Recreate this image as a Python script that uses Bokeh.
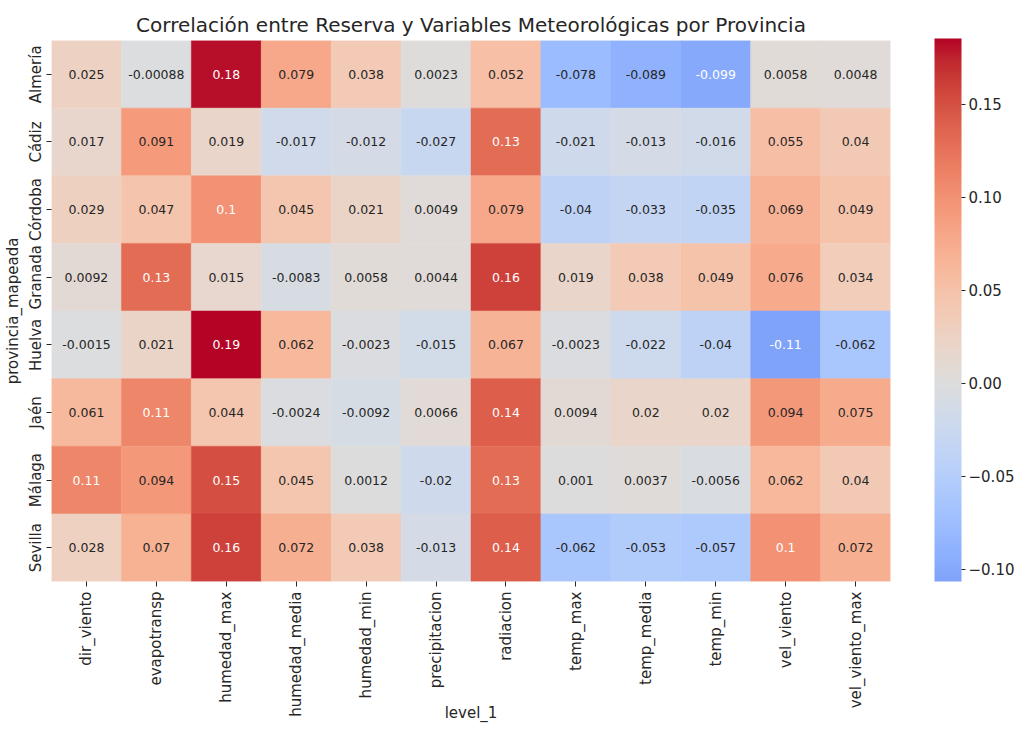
import math
import numpy as np
from bokeh.plotting import figure
from bokeh.layouts import column
from bokeh.models import (ColumnDataSource, LinearColorMapper, ColorBar, FixedTicker,
                          CustomJSTickFormatter, Spacer)
from bokeh.transform import transform
from bokeh.core.properties import value
from bokeh.embed import file_html
from bokeh.resources import INLINE

# ---------------- data ----------------
provincias = ["Almería", "Cádiz", "Córdoba", "Granada", "Huelva", "Jaén", "Málaga", "Sevilla"]
variables = ["dir_viento", "evapotransp", "humedad_max", "humedad_media", "humedad_min",
             "precipitacion", "radiacion", "temp_max", "temp_media", "temp_min",
             "vel_viento", "vel_viento_max"]

almeria = [0.025, -0.00088, 0.181, 0.079, 0.038, 0.0023, 0.052, -0.078, -0.089, -0.0994, 0.0058, 0.0048]
cadiz   = [0.017, 0.091, 0.019, -0.017, -0.012, -0.027, 0.13, -0.021, -0.013, -0.016, 0.055, 0.04]
cordoba = [0.029, 0.047, 0.1, 0.045, 0.021, 0.0049, 0.079, -0.04, -0.033, -0.035, 0.069, 0.049]
granada = [0.0092, 0.13, 0.015, -0.0083, 0.0058, 0.0044, 0.16, 0.019, 0.038, 0.049, 0.076, 0.034]
huelva  = [-0.0015, 0.021, 0.1853, 0.062, -0.0023, -0.015, 0.067, -0.0023, -0.022, -0.04, -0.1065, -0.062]
jaen    = [0.061, 0.11, 0.044, -0.0024, -0.0092, 0.0066, 0.14, 0.0094, 0.02, 0.02, 0.094, 0.075]
malaga  = [0.11, 0.094, 0.15, 0.045, 0.0012, -0.02, 0.13, 0.001, 0.0037, -0.0056, 0.062, 0.04]
sevilla = [0.028, 0.07, 0.16, 0.072, 0.038, -0.013, 0.14, -0.062, -0.053, -0.057, 0.1, 0.072]

filas = [almeria, cadiz, cordoba, granada, huelva, jaen, malaga, sevilla]

# ---------------- colormap (matplotlib coolwarm, centred at 0) ----------------
_cw = np.array([
    [0.2298057, 0.298717966, 0.753683153], [0.26623388, 0.353094838, 0.801466763],
    [0.30386891, 0.406535296, 0.84495867], [0.342804478, 0.458757618, 0.883725899],
    [0.38301334, 0.50941904, 0.917387822], [0.424369608, 0.558148092, 0.945619588],
    [0.46666708, 0.604562568, 0.968154911], [0.509635204, 0.648280772, 0.98478814],
    [0.552953156, 0.688929332, 0.995375608], [0.596262162, 0.726149107, 0.999836203],
    [0.639176211, 0.759599947, 0.998151185], [0.681291281, 0.788964712, 0.990363227],
    [0.722193294, 0.813952739, 0.976574709], [0.761464949, 0.834302879, 0.956945269],
    [0.798691636, 0.849786142, 0.931688648], [0.833466556, 0.860207984, 0.901068838],
    [0.865395197, 0.86541021, 0.865395561], [0.897787179, 0.848937047, 0.820880546],
    [0.924127593, 0.827384882, 0.774508472], [0.944468518, 0.800927443, 0.726736146],
    [0.958852946, 0.769767752, 0.678007945], [0.96732803, 0.734132809, 0.628751763],
    [0.969954137, 0.694266682, 0.579375448], [0.966811177, 0.650421156, 0.530263762],
    [0.958003065, 0.602842431, 0.481775914], [0.943660866, 0.551750968, 0.434243684],
    [0.923944917, 0.49730856, 0.387970225], [0.89904617, 0.439559467, 0.343229596],
    [0.869186849, 0.378313092, 0.300267182], [0.834620542, 0.312874446, 0.259301199],
    [0.795631745, 0.24128379, 0.220525627], [0.752534934, 0.157246067, 0.184115123],
    [0.705673158, 0.01555616, 0.150232812]])
_cw_x = np.linspace(0, 1, len(_cw))

vals = np.array(filas, dtype=float)
vmin, vmax = float(vals.min()), float(vals.max())
vrange = max(vmax, -vmin)
N = 256
fr = 0.5 + np.linspace(vmin, vmax, N) / (2 * vrange)
rgb = np.stack([np.interp(fr, _cw_x, _cw[:, k]) for k in range(3)], axis=1)
palette = ["#%02x%02x%02x" % tuple(int(round(c * 255)) for c in row) for row in rgb]

def _lin(c):
    return np.where(c <= 0.03928, c / 12.92, ((c + 0.055) / 1.055) ** 2.4)
lum = 0.2126 * _lin(rgb[:, 0]) + 0.7152 * _lin(rgb[:, 1]) + 0.0722 * _lin(rgb[:, 2])
text_palette = ["#ffffff" if l < 0.411 else "#262626" for l in lum]

mapper = LinearColorMapper(palette=palette, low=vmin, high=vmax)
text_mapper = LinearColorMapper(palette=text_palette, low=vmin, high=vmax)

xs, ys, vs, labels = [], [], [], []
for prov, fila in zip(provincias, filas):
    for var, v in zip(variables, fila):
        xs.append(var); ys.append(prov); vs.append(v); labels.append(format(v, ".2g"))
src = ColumnDataSource(dict(var=xs, prov=ys, val=vs, label=labels))

FONT = "DejaVu Sans"
TXT = "#262626"
FRAME_H = 543

p = figure(width=1017, height=718, x_range=variables, y_range=list(reversed(provincias)),
           output_backend="svg", toolbar_location=None,
           title="Correlación entre Reserva y Variables Meteorológicas por Provincia",
           min_border_left=0, min_border_top=0, min_border_bottom=0, min_border_right=0)

p.rect(x="var", y="prov", width=1, height=1, source=src,
       fill_color=transform("val", mapper), line_color=transform("val", mapper), line_width=0.5)
p.text(x="var", y="prov", text="label", source=src, text_align="center", text_baseline="middle",
       text_font=value(FONT), text_font_size="12.5px", text_color=transform("val", text_mapper))

p.title.text_font = FONT
p.title.text_font_size = "20px"
p.title.text_font_style = "normal"
p.title.text_color = TXT
p.title.align = "center"
p.title.standoff = 8
p.title.offset = 0

p.outline_line_color = None
p.grid.grid_line_color = None
p.background_fill_color = "white"
p.border_fill_color = "white"

for ax in (p.xaxis, p.yaxis):
    ax.axis_line_color = None
    ax.major_tick_in = 0
    ax.major_tick_out = 5
    ax.major_tick_line_color = TXT
    ax.minor_tick_line_color = None
    ax.major_label_text_font = FONT
    ax.major_label_text_font_size = "15px"
    ax.major_label_text_color = TXT
    ax.axis_label_text_font = FONT
    ax.axis_label_text_font_size = "15px"
    ax.axis_label_text_font_style = "normal"
    ax.axis_label_text_color = TXT
    ax.major_label_standoff = 2
    ax.axis_label_standoff = 2

p.xaxis.major_label_orientation = math.pi / 2
p.yaxis.major_label_orientation = "vertical"
p.xaxis.major_label_standoff = 5
p.xaxis.axis_label_standoff = -16
p.xaxis.axis_label = "level_1"
p.yaxis.axis_label = "provincia_mapeada"

cb = ColorBar(color_mapper=mapper, width=27, height=FRAME_H,
              ticker=FixedTicker(ticks=[-0.10, -0.05, 0.0, 0.05, 0.10, 0.15]),
              formatter=CustomJSTickFormatter(code="return tick.toFixed(2).replace('-', '\u2212');"),
              major_label_text_font=FONT, major_label_text_font_size="15px",
              major_label_text_color=TXT,
              major_tick_in=0, major_tick_out=4, major_tick_line_color=TXT,
              minor_tick_line_color=None, bar_line_color=None, border_line_color=None,
              background_fill_color=None, padding=0, margin=0, label_standoff=3,
              location=(44, 0))
p.add_layout(cb, "right")

layout = column(Spacer(width=1017, height=6), p, spacing=0)
open("out.html", "w").write(file_html(layout, INLINE))
